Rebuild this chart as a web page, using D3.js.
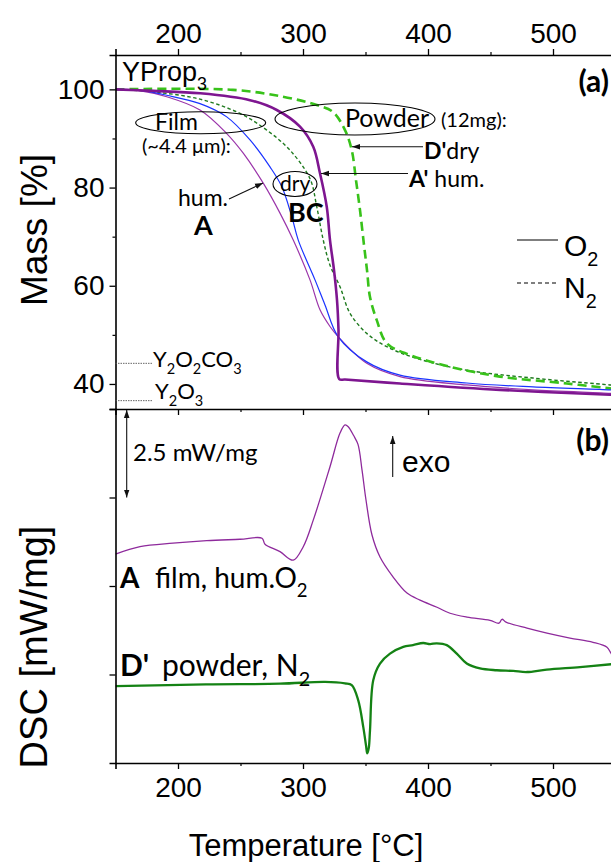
<!DOCTYPE html>
<html><head><meta charset="utf-8">
<script src="https://cdn.jsdelivr.net/npm/d3@7"></script>
<style>
body{margin:0;background:#fff}
svg{display:block}
</style>
</head><body>
<svg id="chart" width="611" height="862"></svg>
<script>
// ---- data ----
const tempMajor = [200, 300, 400, 500];
const tempMinor = [250, 350, 450];
const massMajor = [40, 60, 80, 100];
const massMinor = [50, 70, 90];
const dscTicks = [2.5, 5, 7.5];

// TGA, [temperature °C, mass %]
const filmHumO2 = [[150,100],[170,99.7],[191,98.5],[217.6,95.8],[239,91.0],[252.2,87.0],[268.2,80.9],[281.6,74.8],[292.2,69.3],[305.6,61.2],[313.6,55.1],[321.6,51.7],[328.2,49.6],[351,44.2],[377.6,41.5],[431,39.8],[484,38.8],[545.6,38.1],[550,38.0]];
const filmDryO2 = [[150,100],[170,99.8],[191,98.8],[217.6,97.1],[239,94.4],[257.6,89.7],[273.6,84.2],[283,80.2],[291,74.1],[296.2,69.3],[309.6,61.2],[317.6,56.1],[328.2,49.6],[351,44.5],[377.6,41.8],[431,40.2],[484,39.4],[545.6,38.8],[550,38.7]];
const filmDryN2 = [[150,100],[180,99.5],[217.6,98.0],[249.6,95.1],[271,91.7],[289.6,87.6],[305.6,81.8],[311,76.1],[316.2,69.3],[321.6,64.2],[329.6,59.8],[337.6,54.4],[351,50.3],[367,47.6],[391,45.2],[431,42.8],[484,41.2],[545.6,39.8],[550,39.7]];
const powderHumO2 = [[150,100],[180,99.7],[217.6,99.2],[257.6,97.8],[279,95.8],[297.6,92.4],[308.2,88.3],[313.6,82.9],[319,76.1],[321.6,69.3],[324.8,63.2],[327.2,57.1],[328.4,51.0],[329.0,41.0],[333.6,40.9],[377.6,40.1],[457.6,38.8],[545.6,37.8],[550,37.75]];
const powderDryN2 = [[150,100],[244,99.9],[284,98.5],[311,96.8],[324,95.4],[333.6,91.7],[339,87.6],[342.4,81.5],[345.6,75.4],[348.8,68.3],[351.2,63.2],[353.6,57.7],[359,53.0],[367,48.3],[385.6,45.9],[417.6,43.5],[457.6,41.5],[511,40.1],[545.6,39.1],[550,39.0]];

// reference residue levels, mass %
const residueLevels = [44.2, 36.6];

// DSC, [temperature °C, heat flow mW/mg, offset]
const dscFilmHumO2 = [[150,5.90],[169.6,6.11],[196,6.21],[223,6.28],[249.6,6.32],[267.2,6.35],[269.6,6.18],[281.6,5.97],[292.2,5.73],[300.2,6.11],[308.2,6.86],[321.6,8.37],[329.6,9.32],[333.6,9.55],[336.2,9.50],[340.5,9.25],[344,9.0],[347.2,8.28],[350.4,7.43],[355.2,6.44],[361.6,5.82],[372,5.26],[383.2,4.80],[393.6,4.60],[407.2,4.40],[417.6,4.23],[431.2,4.12],[449.6,4.03],[456.8,3.95],[459.2,4.06],[462.4,3.98],[479.2,3.81],[495.2,3.67],[513.6,3.53],[532,3.41],[543.2,3.27],[546.4,3.10],[550,2.90]];
const dscPowderDryN2 = [[150,2.17],[222.4,2.22],[281.6,2.24],[317.6,2.29],[333.6,2.25],[339,2.20],[344.2,1.77],[348.2,1.02],[350.4,0.50],[351.4,0.27],[352.6,0.42],[353.6,0.92],[356.2,2.34],[361.6,2.81],[369.6,3.09],[380.2,3.28],[388,3.33],[396.2,3.39],[401.6,3.36],[407,3.38],[415,3.33],[423,3.09],[431,2.81],[441.6,2.67],[455,2.62],[468.2,2.60],[479,2.57],[495,2.64],[521.6,2.71],[546.4,2.79],[550,2.80]];

// ---- layout ----
const svg = d3.select("#chart");
const left = 115.5, right = 615.5;
const aTop = 55, aBot = 409, bTop = 409, bBot = 763;

const x = d3.scaleLinear().domain([150, 550]).range([left, right]);
const yMass = d3.scaleLinear().domain([34.9, 107]).range([aBot, aTop]);
const yDsc = d3.scaleLinear().domain([0, 10]).range([bBot, bTop]);

const ARIAL = "'Liberation Sans', Arial, sans-serif";
const CAL = "Lato, 'Open Sans', sans-serif";

const defs = svg.append("defs");
defs.append("clipPath").attr("id","clipA").append("rect")
  .attr("x", left).attr("y", aTop).attr("width", right-left).attr("height", aBot-aTop);
defs.append("clipPath").attr("id","clipB").append("rect")
  .attr("x", left).attr("y", bTop).attr("width", right-left).attr("height", bBot-bTop);
defs.append("marker").attr("id","head").attr("viewBox","0 0 10 10")
  .attr("refX",10).attr("refY",5).attr("markerWidth",8).attr("markerHeight",8)
  .attr("markerUnits","userSpaceOnUse").attr("orient","auto-start-reverse")
  .append("path").attr("d","M0,1.5L10,5L0,8.5Z").attr("fill","#111");

// ---- curves ----
const lineA = d3.line().x(d => x(d[0])).y(d => yMass(d[1])).curve(d3.curveCatmullRom.alpha(0.5));
const lineB = d3.line().x(d => x(d[0])).y(d => yDsc(d[1])).curve(d3.curveCatmullRom.alpha(0.5));

const gA = svg.append("g").attr("clip-path","url(#clipA)");
const tgaSeries = [
  {data: filmDryN2, color: "#1f7a1f", width: 1.4, dash: "3.5,2.5"},
  {data: powderDryN2, color: "#38c21a", width: 2.6, dash: "9,5"},
  {data: filmHumO2, color: "#9b35aa", width: 1.2, dash: null},
  {data: filmDryO2, color: "#1a33ff", width: 1.2, dash: null},
  {data: powderHumO2, color: "#7e1690", width: 2.6, dash: null}
];
tgaSeries.forEach(s => {
  gA.append("path").attr("d", lineA(s.data)).attr("fill","none")
    .attr("stroke", s.color).attr("stroke-width", s.width)
    .attr("stroke-dasharray", s.dash).attr("stroke-linejoin","round");
});

const gB = svg.append("g").attr("clip-path","url(#clipB)");
gB.append("path").attr("d", lineB(dscFilmHumO2)).attr("fill","none")
  .attr("stroke","#8e2a9c").attr("stroke-width",1.3);
gB.append("path").attr("d", lineB(dscPowderDryN2)).attr("fill","none")
  .attr("stroke","#148214").attr("stroke-width",2.3);

// ---- axes ----
function styleAxis(g){
  g.select(".domain").attr("stroke","#000").attr("stroke-width",1.6);
  g.selectAll(".tick line").attr("stroke","#000").attr("stroke-width",1.3);
}
function minor(axisFn, scale, vals, size, transform){
  const g = svg.append("g").attr("transform", transform)
    .call(axisFn(scale).tickValues(vals).tickSize(size).tickFormat(""));
  g.select(".domain").remove();
  g.selectAll(".tick line").attr("stroke","#000").attr("stroke-width",1.2);
}

// top temperature axis
const gTop = svg.append("g").attr("transform",`translate(0,${aTop})`)
  .call(d3.axisTop(x).tickValues(tempMajor).tickSize(6).tickPadding(6));
styleAxis(gTop);
gTop.selectAll("text").attr("font-family",ARIAL).attr("font-size",28).attr("fill","#000");
minor(d3.axisTop, x, tempMinor, 3, `translate(0,${aTop})`);

// axis between panels
const gMid = svg.append("g").attr("transform",`translate(0,${aBot})`)
  .call(d3.axisBottom(x).tickValues(tempMajor).tickSize(6).tickFormat(""));
styleAxis(gMid);
minor(d3.axisBottom, x, tempMinor, 3, `translate(0,${aBot})`);

// bottom temperature axis
const gBot = svg.append("g").attr("transform",`translate(0,${bBot})`)
  .call(d3.axisBottom(x).tickValues(tempMajor).tickSize(6).tickPadding(8));
styleAxis(gBot);
gBot.selectAll("text").attr("font-family",ARIAL).attr("font-size",28).attr("fill","#000");
minor(d3.axisBottom, x, tempMinor, 3, `translate(0,${bBot})`);

// mass axis
const gMass = svg.append("g").attr("transform",`translate(${left},0)`)
  .call(d3.axisLeft(yMass).tickValues(massMajor).tickSize(6).tickPadding(5));
styleAxis(gMass);
gMass.selectAll("text").attr("font-family",ARIAL).attr("font-size",28).attr("fill","#000");
minor(d3.axisLeft, yMass, massMinor, 3, `translate(${left},0)`);

// DSC axis (unlabelled ticks)
const gDsc = svg.append("g").attr("transform",`translate(${left},0)`)
  .call(d3.axisLeft(yDsc).tickValues(dscTicks).tickSize(6).tickFormat(""));
styleAxis(gDsc);

// axis titles
svg.append("text").attr("transform",`translate(47,230) rotate(-90)`)
  .attr("text-anchor","middle").attr("font-family",ARIAL).attr("font-size",37)
  .text("Mass [%]");
svg.append("text").attr("transform",`translate(47,647) rotate(-90)`)
  .attr("text-anchor","middle").attr("font-family",ARIAL).attr("font-size",38)
  .text("DSC [mW/mg]");
svg.append("text").attr("x",306).attr("y",856)
  .attr("text-anchor","middle").attr("font-family",ARIAL).attr("font-size",31)
  .text("Temperature [°C]");

// ---- annotations ----
function rich(xp, yp, parts, family, size, opts = {}){
  const t = svg.append("text").attr("x",xp).attr("y",yp)
    .attr("font-family",family).attr("font-size",size).attr("fill","#000");
  if (opts.anchor) t.attr("text-anchor",opts.anchor);
  let shift = 0;
  parts.forEach(p => {
    const sp = t.append("tspan").text(p.t);
    if (p.x !== undefined) sp.attr("x", p.x);
    const target = p.sub ? size*0.32 : 0;
    if (target !== shift) { sp.attr("dy", target - shift); shift = target; }
    if (p.sub) sp.attr("font-size", size*0.66);
    if (p.b) sp.attr("font-weight","bold");
  });
  return t;
}
function ellipse(cx, cy, rx, ry){
  svg.append("ellipse").attr("cx",cx).attr("cy",cy).attr("rx",rx).attr("ry",ry)
    .attr("fill","none").attr("stroke","#000").attr("stroke-width",1.1);
}
function arrow(x1,y1,x2,y2, both){
  const l = svg.append("line").attr("x1",x1).attr("y1",y1).attr("x2",x2).attr("y2",y2)
    .attr("stroke","#111").attr("stroke-width",1.1).attr("marker-end","url(#head)");
  if (both) l.attr("marker-start","url(#head)");
}

rich(122, 81, [{t:"YProp"},{t:"3",sub:true}], ARIAL, 27);
rich(609, 92, [{t:"(a)",b:true}], CAL, 30, {anchor:"end"});
rich(609, 451, [{t:"(b)",b:true}], CAL, 30, {anchor:"end"});

ellipse(200.7, 122.7, 65, 11);
rich(155, 130, [{t:"Film"}], CAL, 23);
rich(142, 153, [{t:"(~4.4 μm):"}], CAL, 20);
rich(178, 206, [{t:"hum."}], CAL, 23);
arrow(229, 199, 263, 183);
rich(194, 235, [{t:"A",b:true}], CAL, 27);

ellipse(295, 184, 22, 12.5);
rich(280, 191, [{t:"dry"}], CAL, 21);
rich(288, 222, [{t:"BC",b:true}], CAL, 27);

ellipse(355, 119, 80, 16);
rich(345, 127, [{t:"Powder"}], CAL, 25);
rich(441, 127, [{t:"(12mg):"}], CAL, 20);
arrow(423, 146.7, 352, 146.7);
rich(424, 159, [{t:"D'",b:true},{t:"dry"}], CAL, 23);
arrow(408, 173.5, 321, 173.5);
rich(409, 187, [{t:"A'",b:true},{t:" hum."}], CAL, 23);

// legend
svg.append("line").attr("x1",517).attr("x2",558).attr("y1",240).attr("y2",240)
  .attr("stroke","#000").attr("stroke-width",1.2);
rich(564, 256, [{t:"O"},{t:"2",sub:true}], ARIAL, 30);
svg.append("line").attr("x1",517).attr("x2",558).attr("y1",283).attr("y2",283)
  .attr("stroke","#000").attr("stroke-width",1.2).attr("stroke-dasharray","4,3");
rich(564, 298, [{t:"N"},{t:"2",sub:true}], ARIAL, 30);

// residue reference levels
residueLevels.forEach(v => {
  svg.append("line").attr("x1",left).attr("x2",153).attr("y1",yMass(v)).attr("y2",yMass(v))
    .attr("stroke","#555").attr("stroke-width",0.9).attr("stroke-dasharray","1.5,1");
});
rich(153, 367, [{t:"Y"},{t:"2",sub:true},{t:"O"},{t:"2",sub:true},{t:"CO"},{t:"3",sub:true}], CAL, 22);
rich(155, 399, [{t:"Y"},{t:"2",sub:true},{t:"O"},{t:"3",sub:true}], CAL, 22);

// DSC scale bar and exo arrow
arrow(126.7, yDsc(10)+1, 126.7, yDsc(7.5), true);
rich(133, 461, [{t:"2.5 mW/mg"}], CAL, 24);
arrow(392.7, 477, 392.7, 436);
rich(402, 472, [{t:"exo"}], ARIAL, 30);

rich(120, 588, [{t:"A",b:true},{t:"film, hum.O",x:155},{t:"2",sub:true}], CAL, 28);
rich(120, 676, [{t:"D'",b:true},{t:"powder, N",x:162},{t:"2",sub:true}], CAL, 30);
</script>
</body></html>
